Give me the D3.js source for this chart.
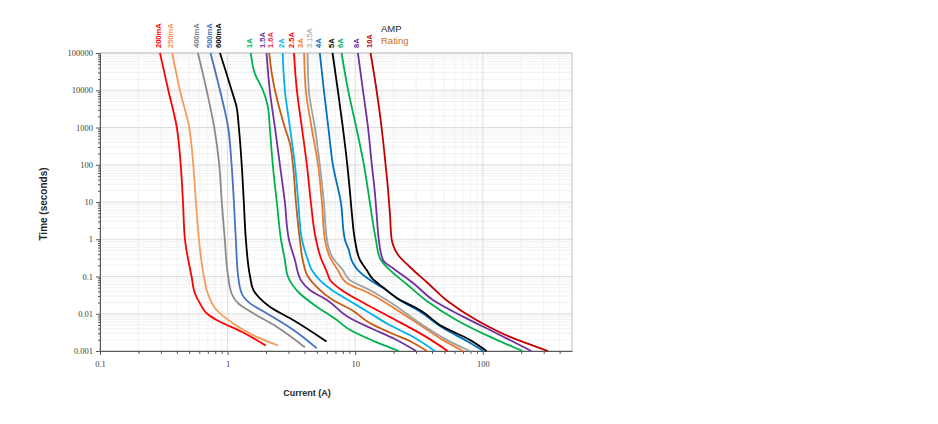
<!DOCTYPE html>
<html>
<head>
<meta charset="utf-8">
<script src="https://cdn.jsdelivr.net/npm/d3@7"></script>
<style>
body { margin: 0; background: #fff; }
svg { display: block; }
</style>
</head>
<body>
<svg id="chart" width="938" height="424"></svg>
<script>
// fuse ratings, one time-current curve each: [current (A), time (s)]
const ratings = ["200mA", "250mA", "400mA", "500mA", "600mA", "1A", "1.5A", "1.6A", "2A",
                 "2.5A", "3A", "3.15A", "4A", "5A", "6A", "8A", "10A"];

const c200mA = [[0.295,100000],[0.343,10000],[0.40,1000],[0.429,100],[0.447,10],[0.463,1],[0.522,0.1],
  [0.555,0.035],[0.607,0.019],[0.685,0.0103],[0.82,0.0068],[1.29,0.0033],[1.99,0.0014]];
const c250mA = [[0.368,100000],[0.423,10000],[0.50,1000],[0.538,100],[0.565,10],[0.596,1],[0.652,0.1],
  [0.70,0.035],[0.82,0.0126],[1.10,0.0056],[1.69,0.0024],[2.49,0.0014]];
const c400mA = [[0.585,100000],[0.685,10000],[0.786,1000],[0.86,100],[0.90,10],[0.95,1],[1.01,0.1],
  [1.075,0.035],[1.21,0.019],[1.59,0.0103],[2.42,0.0045],[4.03,0.00126]];
const c500mA = [[0.735,100000],[0.871,10000],[1.01,1000],[1.075,100],[1.12,10],[1.16,1],[1.21,0.1],
  [1.29,0.035],[1.50,0.019],[2.02,0.0103],[3.26,0.0037],[4.98,0.00119]];
const c600mA = [[0.871,100000],[0.98,28000],[1.075,10000],[1.175,3570],[1.225,1000],[1.29,100],[1.34,10],
  [1.39,1],[1.50,0.1],[1.59,0.0435],[1.79,0.026],[2.14,0.0155],[3.26,0.0068],[5.96,0.0018]];
const c1A = [[1.52,100000],[1.636,28000],[1.89,10000],[2.07,3570],[2.14,1000],[2.26,100],[2.43,10],[2.62,1],
  [2.81,0.277],[2.97,0.1],[3.68,0.035],[5.0,0.0155],[7.18,0.0068],[9.07,0.0037],[13.7,0.0019],[22,0.001]];
const c1_5A = [[2.02,100000],[2.14,10000],[2.35,1000],[2.57,100],[2.81,10],[3.02,1],[3.37,0.277],[3.75,0.08],
  [4.41,0.0435],[6.0,0.0234],[9.07,0.0077],[13.7,0.0039],[20.4,0.0021],[30,0.001]];
const c1_6A = [[2.12,100000],[2.22,28000],[2.35,10000],[2.57,2910],[2.81,1000],[3.08,372],[3.25,100],[3.43,10],
  [3.68,1],[3.91,0.245],[4.26,0.1],[5.0,0.052],[6.68,0.0234],[9.4,0.0126],[13.0,0.00566],[19.0,0.00305],
  [27.7,0.00175],[36.4,0.001]];
const c2A = [[2.70,100000],[2.81,10000],[3.08,1000],[3.37,100],[3.58,10],[3.82,1],[4.26,0.277],[4.57,0.149],
  [5.28,0.08],[6.56,0.0435],[9.07,0.022],[12.6,0.0112],[18.0,0.0053],[28.3,0.0024],[42,0.001]];
const c2_5A = [[3.31,100000],[3.49,10000],[3.82,1000],[4.18,100],[4.49,10],[4.92,1],[5.38,0.313],[6.0,0.132],
  [6.44,0.0757],[8.0,0.041],[11.5,0.0201],[18.7,0.0082],[35.7,0.00243],[53,0.001]];
const c3A = [[3.98,100000],[4.10,10000],[4.55,1000],[5.12,100],[5.48,10],[5.78,1],[6.33,0.333],[7.31,0.149],
  [8.59,0.067],[13.0,0.035],[21.2,0.0126],[33.8,0.00451],[48.5,0.00199],[70,0.001]];
const c3_15A = [[4.23,100000],[4.33,10000],[4.83,1000],[5.28,100],[5.68,10],[6.0,1],[6.68,0.313],[8.0,0.149],
  [9.07,0.08],[13.0,0.0435],[21.2,0.0155],[32.1,0.00556],[52.2,0.00199],[79,0.001]];
const c4A = [[5.28,100000],[5.68,10000],[6.16,1000],[6.68,100],[7.71,10],[8.29,1],[8.91,0.513],[9.58,0.23],
  [10.5,0.149],[12.1,0.097],[14.2,0.067],[17.1,0.046],[21.6,0.025],[32.1,0.0115],[48.5,0.0042],[76,0.0018],[101,0.001]];
const c5A = [[6.64,100000],[7.31,10000],[8.0,1000],[8.67,100],[9.07,20.8],[9.41,5.03],[9.93,1],[10.9,0.277],
  [12.3,0.149],[13.7,0.0857],[16.4,0.052],[21.2,0.0265],[32.1,0.0126],[48.5,0.00451],[79,0.00199],[107,0.001]];
const c6A = [[7.81,100000],[8.80,10000],[10.2,1000],[11.7,100],[12.6,20.8],[13.4,5.03],[14.5,1],[15.6,0.313],
  [18.3,0.159],[25.2,0.063],[36.4,0.022],[62.1,0.00682],[113,0.00243],[205,0.001]];
const c8A = [[10.5,100000],[11.5,10000],[12.6,1000],[13.5,100],[14.2,20.8],[14.7,5.03],[15.3,1],[15.9,0.427],
  [16.7,0.26],[19.8,0.166],[28.4,0.067],[40.7,0.0234],[70,0.00836],[128,0.003],[240,0.001]];
const c10A = [[13.2,100000],[14.7,10000],[16.1,1000],[17.3,100],[18.1,20.8],[18.7,5.03],[19.3,1],[19.8,0.70],
  [21.7,0.377],[26.8,0.18],[37,0.067],[52.2,0.0227],[89,0.00682],[162,0.00243],[324,0.001]];

const curves = [c200mA, c250mA, c400mA, c500mA, c600mA, c1A, c1_5A, c1_6A, c2A,
                c2_5A, c3A, c3_15A, c4A, c5A, c6A, c8A, c10A];

const xTicks = [0.1, 1, 10, 100];
const xTickLabels = ["0.1", "1", "10", "100"];
const yTicks = [0.001, 0.01, 0.1, 1, 10, 100, 1000, 10000, 100000];
const yTickLabels = ["0.001", "0.01", "0.1", "1", "10", "100", "1000", "10000", "100000"];

const lineColors = ["#ff0000","#f79b5b","#8a8a8a","#4472c4","#000000","#00b050","#7030a0","#c55a11","#00b0f0",
                    "#ff0000","#ed7d31","#a0a0a0","#0070c0","#000000","#00b050","#7030a0","#c00000"];
const labelColors = ["#ff0000","#f79646","#7f7f7f","#4472c4","#000000","#00b050","#7030a0","#e0303a","#00b0f0",
                     "#ff0000","#ed7d31","#a0a0a0","#0070c0","#000000","#00b050","#7030a0","#c00000"];

const svg = d3.select("#chart"),
      margin = { top: 53, right: 366, bottom: 73, left: 100 },
      width = +svg.attr("width") - margin.left - margin.right,
      height = +svg.attr("height") - margin.top - margin.bottom;

svg.append("rect").attr("width", 938).attr("height", 424).attr("fill", "#fff");

const g = svg.append("g")
  .attr("transform", `translate(${margin.left},${margin.top})`);

/* SCALES */
const x = d3.scaleLog().domain([0.1, 500]).range([0, width]);
const y = d3.scaleLog().domain([0.001, 100000]).range([height, 0]);

// minor positions 2..9 of every decade
const minorX = [], minorY = [];
for (let e = -1; e <= 2; e++) for (let k = 2; k <= 9; k++) {
  const v = k * Math.pow(10, e);
  if (v < 500) minorX.push(v);
}
for (let e = -3; e <= 4; e++) for (let k = 2; k <= 9; k++) minorY.push(k * Math.pow(10, e));

/* GRID */
g.append("g").selectAll("line").data(minorX).join("line")
  .attr("x1", d => x(d)).attr("x2", d => x(d)).attr("y1", 0).attr("y2", height)
  .attr("stroke", "#efefef").attr("stroke-width", 0.8);
g.append("g").selectAll("line").data(minorY).join("line")
  .attr("y1", d => y(d)).attr("y2", d => y(d)).attr("x1", 0).attr("x2", width)
  .attr("stroke", "#efefef").attr("stroke-width", 0.8);
g.append("g").selectAll("line").data(xTicks).join("line")
  .attr("x1", d => x(d)).attr("x2", d => x(d)).attr("y1", 0).attr("y2", height)
  .attr("stroke", "#d9d9d9").attr("stroke-width", 0.9);
g.append("g").selectAll("line").data(yTicks).join("line")
  .attr("y1", d => y(d)).attr("y2", d => y(d)).attr("x1", 0).attr("x2", width)
  .attr("stroke", "#d9d9d9").attr("stroke-width", 0.9);

g.append("rect")
  .attr("width", width).attr("height", height)
  .attr("fill", "none").attr("stroke", "#bfbfbf").attr("stroke-width", 1);

/* AXES */
const tickFont = "'Liberation Serif', 'DejaVu Serif', serif";

g.append("g")
  .attr("transform", `translate(0,${height})`)
  .call(d3.axisBottom(x).tickValues(xTicks).tickFormat((d, i) => xTickLabels[i])
    .tickSizeInner(4).tickSizeOuter(0).tickPadding(6));
g.append("g")
  .attr("transform", `translate(0,${height})`)
  .call(d3.axisBottom(x).tickValues(minorX).tickFormat("").tickSizeInner(3).tickSizeOuter(0))
  .select(".domain").remove();

g.append("g")
  .call(d3.axisLeft(y).tickValues(yTicks).tickFormat((d, i) => yTickLabels[i])
    .tickSizeInner(4).tickSizeOuter(0).tickPadding(3));
g.append("g")
  .call(d3.axisLeft(y).tickValues(minorY).tickFormat("").tickSizeInner(2).tickSizeOuter(0))
  .select(".domain").remove();

g.selectAll(".domain").attr("stroke", "#595959");
g.selectAll(".tick line").attr("stroke", "#595959");
g.selectAll(".tick text")
  .attr("font-family", tickFont).attr("font-size", "8.5px").attr("fill", "#404040");

/* CURVES */
const line = d3.line()
  .x(d => x(d[0]))
  .y(d => y(d[1]))
  .curve(d3.curveMonotoneY);

g.append("g").selectAll("path").data(curves).join("path")
  .attr("d", line)
  .attr("fill", "none")
  .attr("stroke", (d, i) => lineColors[i])
  .attr("stroke-width", 1.8)
  .attr("stroke-linejoin", "round");

/* RATING LABELS (spread apart where tops crowd together) */
const labelX = curves.map(c => x(c[0][0]) - 1.5);
for (let it = 0; it < 60; it++) {
  for (let i = 1; i < labelX.length; i++) {
    const gap = labelX[i] - labelX[i - 1];
    if (gap < 8.6) {
      const d = (8.6 - gap) / 2;
      labelX[i - 1] -= d;
      labelX[i] += d;
    }
  }
}

g.append("g").selectAll("text").data(ratings).join("text")
  .attr("transform", (d, i) => `translate(${labelX[i] + 2.7},-5) rotate(-90)`)
  .attr("text-anchor", "start")
  .attr("font-family", "'Liberation Sans', Arial, sans-serif")
  .attr("font-size", "7.5px")
  .attr("font-weight", d => d === "3.15A" ? "normal" : "bold")
  .attr("fill", (d, i) => labelColors[i])
  .text(d => d);

svg.append("text")
  .attr("x", 381).attr("y", 32)
  .attr("font-family", "'Liberation Sans', Arial, sans-serif")
  .attr("font-size", "9.5px").attr("fill", "#262626")
  .text("AMP");
svg.append("text")
  .attr("x", 381).attr("y", 44)
  .attr("font-family", "'Liberation Sans', Arial, sans-serif")
  .attr("font-size", "9.5px").attr("fill", "#c0702a")
  .text("Rating");

/* AXIS TITLES */
svg.append("text")
  .attr("transform", "translate(47,204) rotate(-90)")
  .attr("text-anchor", "middle")
  .attr("font-family", "'Liberation Sans', Arial, sans-serif")
  .attr("font-size", "10px").attr("font-weight", "bold").attr("fill", "#262626")
  .text("Time (seconds)");

svg.append("text")
  .attr("x", 307).attr("y", 396)
  .attr("text-anchor", "middle")
  .attr("font-family", "'Liberation Sans', Arial, sans-serif")
  .attr("font-size", "9px").attr("font-weight", "bold").attr("fill", "#262626")
  .text("Current (A)");
</script>
</body>
</html>
